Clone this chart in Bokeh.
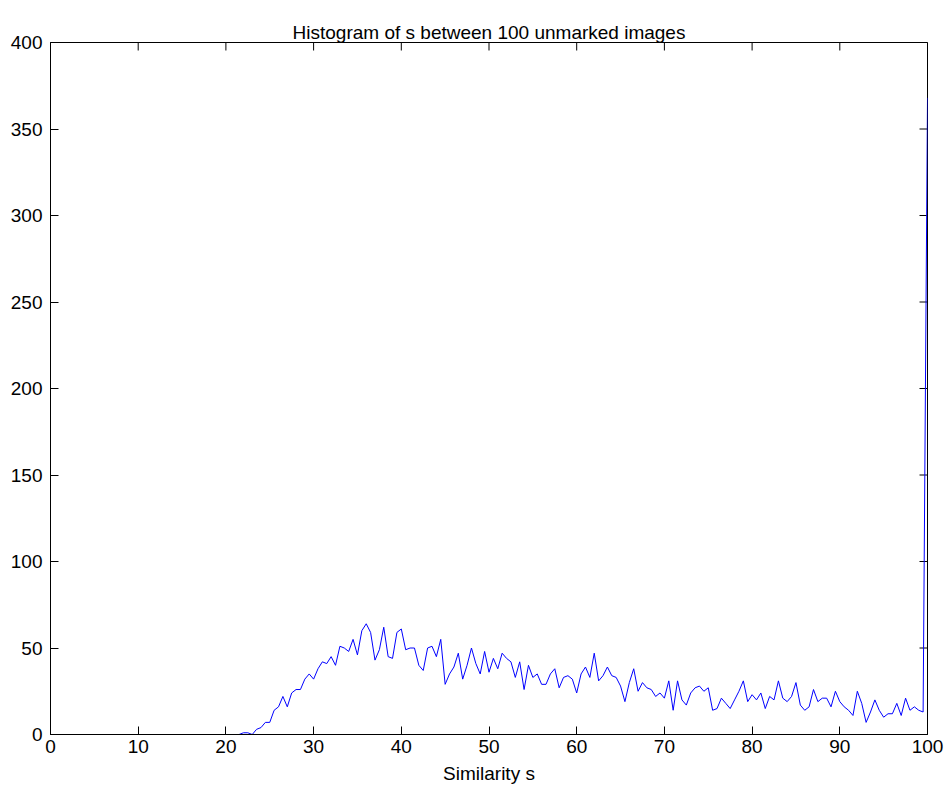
import math
from bokeh.plotting import figure
from bokeh.models import Range1d, FixedTicker, LinearAxis
from bokeh.embed import file_html
from bokeh.resources import INLINE

# Bin positions (similarity s, step 0.5)
similarity = [
    0.0, 0.5, 1.0, 1.5, 2.0, 2.5, 3.0, 3.5, 4.0, 4.5, 5.0, 5.5, 6.0, 6.5, 7.0, 7.5, 8.0, 8.5, 9.0, 9.5,
    10.0, 10.5, 11.0, 11.5, 12.0, 12.5, 13.0, 13.5, 14.0, 14.5, 15.0, 15.5, 16.0, 16.5, 17.0, 17.5, 18.0, 18.5, 19.0, 19.5,
    20.0, 20.5, 21.0, 21.5, 22.0, 22.5, 23.0, 23.5, 24.0, 24.5, 25.0, 25.5, 26.0, 26.5, 27.0, 27.5, 28.0, 28.5, 29.0, 29.5,
    30.0, 30.5, 31.0, 31.5, 32.0, 32.5, 33.0, 33.5, 34.0, 34.5, 35.0, 35.5, 36.0, 36.5, 37.0, 37.5, 38.0, 38.5, 39.0, 39.5,
    40.0, 40.5, 41.0, 41.5, 42.0, 42.5, 43.0, 43.5, 44.0, 44.5, 45.0, 45.5, 46.0, 46.5, 47.0, 47.5, 48.0, 48.5, 49.0, 49.5,
    50.0, 50.5, 51.0, 51.5, 52.0, 52.5, 53.0, 53.5, 54.0, 54.5, 55.0, 55.5, 56.0, 56.5, 57.0, 57.5, 58.0, 58.5, 59.0, 59.5,
    60.0, 60.5, 61.0, 61.5, 62.0, 62.5, 63.0, 63.5, 64.0, 64.5, 65.0, 65.5, 66.0, 66.5, 67.0, 67.5, 68.0, 68.5, 69.0, 69.5,
    70.0, 70.5, 71.0, 71.5, 72.0, 72.5, 73.0, 73.5, 74.0, 74.5, 75.0, 75.5, 76.0, 76.5, 77.0, 77.5, 78.0, 78.5, 79.0, 79.5,
    80.0, 80.5, 81.0, 81.5, 82.0, 82.5, 83.0, 83.5, 84.0, 84.5, 85.0, 85.5, 86.0, 86.5, 87.0, 87.5, 88.0, 88.5, 89.0, 89.5,
    90.0, 90.5, 91.0, 91.5, 92.0, 92.5, 93.0, 93.5, 94.0, 94.5, 95.0, 95.5, 96.0, 96.5, 97.0, 97.5, 98.0, 98.5, 99.0, 99.5,
    100.0,
]

# Histogram counts
counts = [
    0, 0, 0, 0, 0, 0, 0, 0, 0, 0, 0, 0, 0, 0, 0, 0, 0, 0, 0, 0,
    0, 0, 0, 0, 0, 0, 0, 0, 0, 0, 0, 0, 0, 0, 0, 0, 0, 0, 0, 0,
    0, 0, 0, 0, 1, 1, 0, 3, 4, 7, 7, 14, 16, 22, 16, 24, 26, 26, 32, 35,
    32, 38, 42, 41, 45, 40, 51, 50, 48, 55, 46, 60, 64, 59, 43, 49, 62, 45, 44, 59,
    61, 49, 50, 50, 40, 37, 50, 51, 45, 55, 29, 35, 39, 47, 32, 40, 50, 41, 35, 48,
    36, 44, 38, 47, 44, 42, 33, 42, 26, 40, 33, 35, 29, 29, 35, 38, 27, 33, 34, 32,
    24, 35, 39, 33, 47, 31, 34, 39, 34, 33, 28, 19, 30, 38, 25, 30, 27, 26, 22, 24,
    21, 31, 14, 31, 20, 17, 24, 27, 28, 25, 27, 14, 15, 21, 18, 15, 20, 25, 31, 19,
    23, 20, 24, 15, 22, 20, 31, 21, 19, 22, 30, 17, 14, 16, 26, 19, 21, 21, 16, 25,
    19, 16, 14, 11, 25, 18, 7, 13, 20, 14, 10, 12, 12, 18, 11, 21, 14, 16, 14, 13,
    368,
]

title_text = "Histogram of s between 100 unmarked images"
x_label = "Similarity s"
x_ticks = [0, 10, 20, 30, 40, 50, 60, 70, 80, 90, 100]
y_ticks = [0, 50, 100, 150, 200, 250, 300, 350, 400]
x_min, x_max = 0, 100
y_min, y_max = 0, 400

FONT = "Liberation Sans"
FS = "19px"

p = figure(
    frame_width=877, frame_height=692,
    x_range=Range1d(x_min, x_max), y_range=Range1d(y_min, y_max),
    output_backend="svg", toolbar_location=None,
    title=title_text, x_axis_label=x_label,
)
p.min_border_left = 50
p.min_border_right = 19
p.min_border_top = 42
p.min_border_bottom = 58
p.background_fill_color = "white"
p.border_fill_color = "white"
p.outline_line_color = "black"
p.outline_line_width = 1
p.xgrid.visible = False
p.ygrid.visible = False

p.title.text_font = FONT
p.title.text_font_size = FS
p.title.text_font_style = "normal"
p.title.text_color = "black"
p.title.align = "center"
p.title.standoff = 0

bottom_axis = p.below[0]
left_axis = p.left[0]

for ax in (bottom_axis, left_axis):
    ax.major_label_text_font = FONT
    ax.major_label_text_font_size = FS
    ax.major_label_text_color = "black"
    ax.major_tick_in = 8
    ax.major_tick_out = 0
    ax.minor_tick_in = 0
    ax.minor_tick_out = 0
    ax.axis_line_color = "black"
    ax.major_tick_line_color = "black"

bottom_axis.ticker = FixedTicker(ticks=x_ticks)
left_axis.ticker = FixedTicker(ticks=y_ticks)
bottom_axis.major_label_standoff = 5
left_axis.major_label_standoff = 8
bottom_axis.axis_label_text_font = FONT
bottom_axis.axis_label_text_font_size = FS
bottom_axis.axis_label_text_font_style = "normal"
bottom_axis.axis_label_text_color = "black"
bottom_axis.axis_label_standoff = 7

# Empty spacer axis above the frame that lifts the title (no ticks, no labels)
spacer = LinearAxis(ticker=FixedTicker(ticks=[]), axis_line_color=None,
                    major_tick_in=0, major_tick_out=12, major_tick_line_color=None,
                    minor_tick_in=0, minor_tick_out=0, major_label_standoff=0)
p.add_layout(spacer, "above")

# Mirrored inward ticks on the top and right edges (clipped to the frame)
p.scatter(x_ticks, [y_max] * len(x_ticks), marker="dash", size=16, angle=math.pi / 2,
          line_color="black", line_width=1)
p.scatter([x_max] * len(y_ticks), y_ticks, marker="dash", size=16,
          line_color="black", line_width=1)

p.line(similarity, counts, line_color="#0000ff", line_width=1)

open("out.html", "w").write(file_html(p, INLINE))
